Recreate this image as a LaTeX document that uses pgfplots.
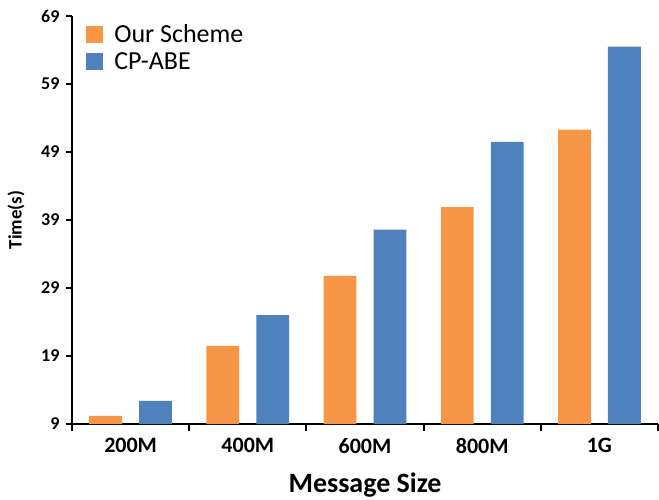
\documentclass[border=0pt]{standalone}
\usepackage{pgfplots}
\pgfplotsset{compat=1.18}
\usepackage{fontspec}
\setmainfont{Carlito}
\definecolor{schemeorange}{HTML}{F79646}
\definecolor{abeblue}{HTML}{4F81BD}

\begin{document}
\begin{tikzpicture}
\path[use as bounding box] (-72bp,-76bp) rectangle (587bp,424bp);
\begin{axis}[
    at={(0,0)}, anchor=south west,
    scale only axis,
    width=586bp, height=408bp,
    axis x line*=bottom, axis y line*=left,
    axis line style={line width=2bp, black},
    xmin=-0.5, xmax=4.5,
    ymin=9, ymax=69,
    xtick={0,1,2,3,4},
    xticklabels={200M,400M,600M,800M,1G},
    major x tick style={draw=none},
    minor xtick={-0.5,0.5,1.5,2.5,3.5,4.5},
    minor tick length=7bp,
    minor x tick style={line width=2bp, black},
    ytick={9,19,29,39,49,59,69},
    major tick length=6bp,
    ytick style={line width=2bp, black},
    tick align=outside,
    /pgf/number format/assume math mode=true,
    x tick label style={font=\fontsize{22bp}{24bp}\selectfont\bfseries, yshift=-5bp},
    y tick label style={font=\fontsize{18bp}{20bp}\selectfont\bfseries, xshift=-3bp},
    xlabel={Message Size},
    ylabel={Time(s)},
    every axis x label/.style={at={(axis description cs:0.5,-0.1495)}, anchor=center,
        font=\fontsize{28bp}{30bp}\selectfont\bfseries},
    every axis y label/.style={at={(axis description cs:-0.0956,0.5)}, rotate=90, anchor=center,
        font=\fontsize{19bp}{21bp}\selectfont\bfseries},
    legend style={at={(rel axis cs:0.019,0.99)}, anchor=north west, draw=none, fill=none,
        font=\fontsize{26bp}{28bp}\selectfont, row sep=5bp},
    legend cell align=left,
    bar width=0.28,
    clip=true,
]
\addplot[ybar, draw=none, fill=schemeorange, bar shift=-0.213,
    legend image code/.code={\fill[schemeorange] (0bp,-8.5bp) rectangle (17bp,8.5bp);
        \path (26bp,0bp);}]
    coordinates {(0,10.2) (1,20.5) (2,30.8) (3,40.9) (4,52.3)};
\addlegendentry{Our Scheme}
\addplot[ybar, draw=none, fill=abeblue, bar shift=0.213,
    legend image code/.code={\fill[abeblue] (0bp,-8.5bp) rectangle (17bp,8.5bp);
        \path (26bp,0bp);}]
    coordinates {(0,12.4) (1,25.0) (2,37.6) (3,50.5) (4,64.5)};
\addlegendentry{CP-ABE}
\end{axis}
\end{tikzpicture}
\end{document}
